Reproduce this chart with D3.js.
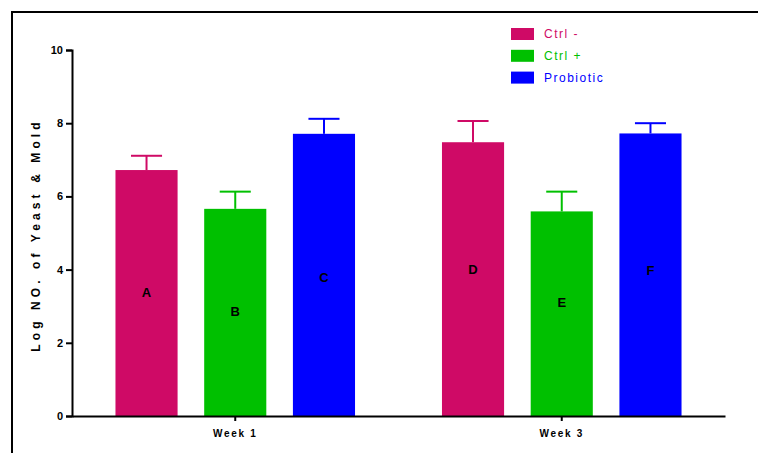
<!DOCTYPE html>
<html>
<head>
<meta charset="utf-8">
<script src="https://cdn.jsdelivr.net/npm/d3@7"></script>
<style>
  html, body { margin: 0; padding: 0; background: #fff; }
  svg { display: block; font-family: "Liberation Sans", Arial, sans-serif; }
</style>
</head>
<body>
<svg id="chart" width="758" height="453"></svg>
<script>
// Groups along the x axis and the three treatments
const weeks = ["Week 1", "Week 3"];
const seriesNames = ["Ctrl -", "Ctrl +", "Probiotic"];
const seriesColors = ["#CF0A66", "#00C000", "#0000FF"];

// Mean log counts per treatment, in week order
const ctrlNeg = [6.72, 7.48];
const ctrlPos = [5.66, 5.59];
const probiotic = [7.71, 7.72];

// Upper end of each error bar (mean + SD)
const ctrlNegErr = [7.11, 8.06];
const ctrlPosErr = [6.13, 6.13];
const probioticErr = [8.12, 8.00];

// Significance letters and the height (in y units) where each sits
const letters = [["A", "D"], ["B", "E"], ["C", "F"]];
const letterY = [[3.37, 4.01], [2.87, 3.11], [3.79, 3.97]];

const yTicks = [0, 2, 4, 6, 8, 10];

const values = [ctrlNeg, ctrlPos, probiotic];
const errs = [ctrlNegErr, ctrlPosErr, probioticErr];

const rows = [];
weeks.forEach((w, wi) => {
  seriesNames.forEach((s, si) => {
    rows.push({
      week: w, series: s, si,
      value: values[si][wi],
      err: errs[si][wi],
      letter: letters[si][wi],
      ly: letterY[si][wi]
    });
  });
});

const svg = d3.select("#chart");

// Frame around the figure
svg.append("rect")
  .attr("x", 12).attr("y", 12)
  .attr("width", 800).attr("height", 500)
  .attr("fill", "none").attr("stroke", "#000").attr("stroke-width", 2);

const x0 = d3.scaleBand().domain(weeks).range([72, 725]).padding(0);
const x1 = d3.scaleBand().domain(seriesNames).range([0, x0.bandwidth()])
  .paddingInner(0.3).paddingOuter(0.49);
const y = d3.scaleLinear().domain([0, 10]).range([416, 50]);
const color = d3.scaleOrdinal().domain(seriesNames).range(seriesColors);

// Bars
svg.append("g").selectAll("rect").data(rows).join("rect")
  .attr("x", d => x0(d.week) + x1(d.series))
  .attr("y", d => y(d.value))
  .attr("width", x1.bandwidth())
  .attr("height", d => y(0) - y(d.value))
  .attr("fill", d => color(d.series));

// Error bars (upper whisker with cap)
const eg = svg.append("g");
eg.selectAll("line.stem").data(rows).join("line")
  .attr("class", "stem")
  .attr("x1", d => x0(d.week) + x1(d.series) + x1.bandwidth() / 2)
  .attr("x2", d => x0(d.week) + x1(d.series) + x1.bandwidth() / 2)
  .attr("y1", d => y(d.value))
  .attr("y2", d => y(d.err))
  .attr("stroke", d => color(d.series)).attr("stroke-width", 2);
eg.selectAll("line.cap").data(rows).join("line")
  .attr("class", "cap")
  .attr("x1", d => x0(d.week) + x1(d.series) + x1.bandwidth() / 4)
  .attr("x2", d => x0(d.week) + x1(d.series) + x1.bandwidth() * 3 / 4)
  .attr("y1", d => y(d.err))
  .attr("y2", d => y(d.err))
  .attr("stroke", d => color(d.series)).attr("stroke-width", 2);

// Letters inside bars
svg.append("g").selectAll("text").data(rows).join("text")
  .attr("x", d => x0(d.week) + x1(d.series) + x1.bandwidth() / 2)
  .attr("y", d => y(d.ly))
  .attr("dy", "0.36em")
  .attr("text-anchor", "middle")
  .attr("font-size", 13).attr("font-weight", "bold")
  .attr("fill", "#000")
  .text(d => d.letter);

// Y axis
const yAxis = svg.append("g")
  .attr("transform", "translate(72,0)")
  .call(d3.axisLeft(y).tickValues(yTicks).tickSize(6).tickPadding(3).tickFormat(d3.format("d")));
yAxis.select(".domain").attr("stroke", "#000").attr("stroke-width", 2);
yAxis.selectAll(".tick line").attr("stroke", "#000").attr("stroke-width", 2);
yAxis.selectAll(".tick text")
  .attr("font-size", 11).attr("font-weight", "bold")
  .attr("font-family", "Liberation Sans, Arial, sans-serif")
  .attr("fill", "#000");

// X axis
const xAxis = svg.append("g")
  .attr("transform", "translate(0,416)")
  .call(d3.axisBottom(x0).tickSize(5).tickPadding(9).tickSizeOuter(0));
xAxis.select(".domain").attr("stroke", "#000").attr("stroke-width", 2);
xAxis.selectAll(".tick line").attr("stroke", "#000").attr("stroke-width", 2);
xAxis.selectAll(".tick text")
  .attr("font-size", 10).attr("font-weight", "bold")
  .attr("font-family", "Liberation Sans, Arial, sans-serif")
  .attr("letter-spacing", "1.7px")
  .attr("fill", "#000");

// Y axis title
svg.append("text")
  .attr("transform", "translate(40,235) rotate(-90)")
  .attr("text-anchor", "middle")
  .attr("font-size", 12).attr("font-weight", "bold")
  .attr("letter-spacing", "4.1px")
  .attr("fill", "#000")
  .text("Log NO. of Yeast & Mold");

// Legend
const legend = svg.append("g").selectAll("g").data(seriesNames).join("g")
  .attr("transform", (d, i) => `translate(511,${28 + i * 21.8})`);
legend.append("rect")
  .attr("width", 23).attr("height", 12)
  .attr("fill", d => color(d));
legend.append("text")
  .attr("x", 33).attr("y", 6).attr("dy", "0.36em")
  .attr("font-size", 12)
  .attr("letter-spacing", "1.5px")
  .attr("fill", d => color(d))
  .text(d => d);
</script>
</body>
</html>
